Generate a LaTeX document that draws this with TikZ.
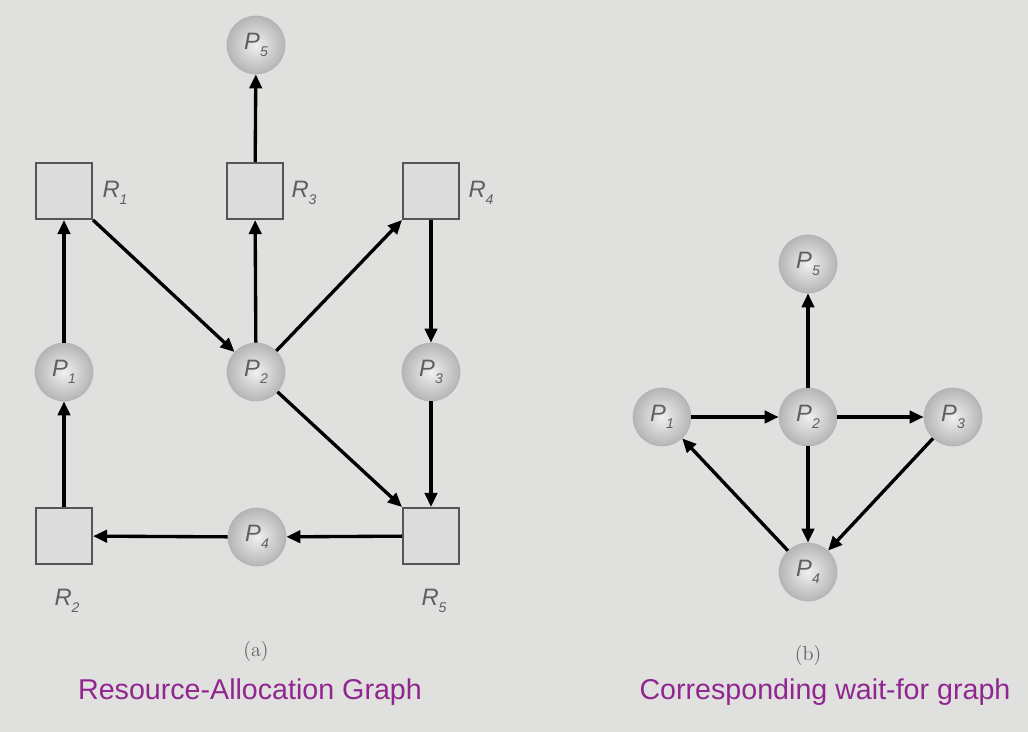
\documentclass[tikz,border=0pt]{standalone}
\usepackage{fontspec}
\setsansfont{Liberation Sans}
\usetikzlibrary{arrows.meta}
\definecolor{bg}{RGB}{224,224,222}
\definecolor{boxfill}{RGB}{220,220,221}
\definecolor{boxline}{RGB}{85,85,85}
\definecolor{labgray}{RGB}{95,95,95}
\definecolor{capcol}{RGB}{145,38,145}
\newcommand\plab[2]{{\sffamily\itshape #1\raisebox{-0.55ex}{\footnotesize #2}}}
\begin{document}
\begin{tikzpicture}[x=0.02cm,y=-0.02cm,
  proc/.style={circle,minimum size=33pt,inner sep=0pt,draw=gray!60,line width=0.4pt,
    inner color=gray!12,outer color=gray!58,text=labgray,font=\fontsize{13.5}{14}\selectfont},
  res/.style={rectangle,minimum size=32pt,inner sep=0pt,draw=boxline,line width=1pt,fill=boxfill},
  rlab/.style={text=labgray,font=\fontsize{13.5}{14}\selectfont},
  edge/.style={line width=1.9pt,-{Triangle[length=8pt,width=7pt]}},
  sublab/.style={font=\fontsize{11.5}{12}\selectfont,text=labgray},
  captxt/.style={font=\sffamily\fontsize{16.3}{18}\selectfont,text=capcol}]
\useasboundingbox[fill=bg] (0,0) rectangle (1028,732);
% (a) Resource-allocation graph
\node[proc] (aP5) at (256,45) {\plab{P}{5}};
\node[res] (R1) at (64,191) {};
\node[res] (R3) at (255,191) {};
\node[res] (R4) at (431,191) {};
\node[proc] (aP1) at (64,372) {\plab{P}{1}};
\node[proc] (aP2) at (256,372) {\plab{P}{2}};
\node[proc] (aP3) at (431,372) {\plab{P}{3}};
\node[res] (R2) at (64,536) {};
\node[proc] (aP4) at (257,537) {\plab{P}{4}};
\node[res] (R5) at (431,536) {};
\node[rlab] (lR1) at (115,193) {\plab{R}{1}};
\node[rlab] (lR3) at (304,193) {\plab{R}{3}};
\node[rlab] (lR4) at (481,193) {\plab{R}{4}};
\node[rlab] (lR2) at (67,601) {\plab{R}{2}};
\node[rlab] (lR5) at (434,601) {\plab{R}{5}};
\draw[edge] (R3) -- (aP5);
\draw[edge] (aP2) -- (R3);
\draw[edge] (R1.south east) -- (aP2);
\draw[edge] (aP2) -- (R4.south west);
\draw[edge] (R4) -- (aP3);
\draw[edge] (aP3) -- (R5);
\draw[edge] (aP2) -- (R5.north west);
\draw[edge] (R5) -- (aP4);
\draw[edge] (aP4) -- (R2);
\draw[edge] (R2) -- (aP1);
\draw[edge] (aP1) -- (R1);
\node[sublab] (suba) at (256,651) {(a)};
\node[captxt] (capa) at (250,692) {Resource-Allocation Graph};
% (b) wait-for graph
\node[proc] (bP5) at (808,264) {\plab{P}{5}};
\node[proc] (bP1) at (662,417) {\plab{P}{1}};
\node[proc] (bP2) at (808,417) {\plab{P}{2}};
\node[proc] (bP3) at (953,417) {\plab{P}{3}};
\node[proc] (bP4) at (808,572) {\plab{P}{4}};
\draw[edge] (bP1) -- (bP2);
\draw[edge] (bP2) -- (bP3);
\draw[edge] (bP2) -- (bP5);
\draw[edge] (bP2) -- (bP4);
\draw[edge] (bP3) -- (bP4);
\draw[edge] (bP4) -- (bP1);
\node[sublab] (subb) at (808,655) {(b)};
\node[captxt] (capb) at (825,692) {Corresponding wait-for graph};
\end{tikzpicture}
\end{document}
